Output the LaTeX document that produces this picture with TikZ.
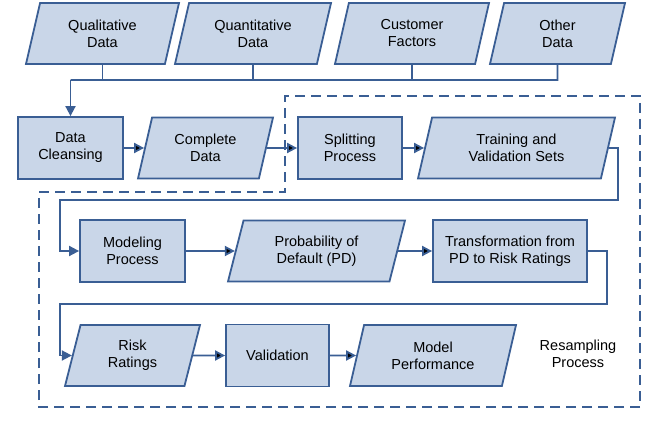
\documentclass[tikz,border=0pt]{standalone}
\usepackage{fontspec}
\setmainfont{Liberation Sans}
\usepackage{tikz}
\usetikzlibrary{shapes.geometric,arrows.meta}
\definecolor{boxfill}{HTML}{C9D6E8}
\definecolor{boxline}{HTML}{3A5E94}

\begin{document}
\begin{tikzpicture}[x=1pt,y=-1pt,>={Triangle[length=10pt,width=10pt]},
	font=\fontsize{14.5}{17}\selectfont,
	proc/.style={rectangle,draw=boxline,fill=boxfill,line width=1.8pt,minimum height=62pt,align=center,inner sep=0pt},
	data/.style={trapezium,trapezium left angle=63,trapezium right angle=117,trapezium stretches body,draw=boxline,fill=boxfill,line width=1.8pt,minimum height=61pt,align=center,inner sep=0pt},
	flow/.style={draw=boxline,line width=1.8pt},
	group/.style={draw=boxline,line width=2pt,dash pattern=on 10pt off 6pt}]
		\useasboundingbox (0,0) rectangle (657,425);
		
		% inputs
		\node[data,minimum width=153pt] (qual) at (102.5,33.5) {Qualitative\\Data};
		\node[data,minimum width=156pt] (quan) at (253,33.5) {Quantitative\\Data};
		\node[data,minimum width=154pt] (cust) at (412,33.5) {Customer\\Factors};
		\node[data,minimum width=135pt] (other) at (557.5,33.5) {Other\\Data};
		
		% row 1
		\node[proc,minimum width=105pt] (clean) at (70.5,148) {Data\\Cleansing};
		\node[data,minimum width=135pt] (complete) at (205.5,148) {Complete\\Data};
		\node[proc,minimum width=104pt] (split) at (350,148) {Splitting\\Process};
		\node[data,minimum width=197pt] (sets) at (516.5,148) {Training and\\Validation Sets};
		
		% row 2
		\node[proc,minimum width=105pt] (model) at (132.5,251) {Modeling\\Process};
		\node[data,minimum width=177pt] (pd) at (316.5,251) {Probability of\\Default (PD)};
		\node[proc,minimum width=154pt] (trans) at (510,251) {Transformation from\\PD to Risk Ratings};
		
		% row 3
		\node[data,minimum width=135pt] (ratings) at (132.5,355.5) {Risk\\Ratings};
		\node[proc,minimum width=103pt] (valid) at (277.5,355.5) {Validation};
		\node[data,minimum width=166pt] (perf) at (433,355.5) {Model\\Performance};
		\node[align=center] (resamp) at (578,354) {Resampling\\Process};
		
		% bus from the inputs
		\coordinate (bus) at (70.5,80);
		\coordinate (busend) at (557.5,80);
		\draw[flow] (qual.south) -- (qual.south |- bus);
		\draw[flow] (quan.south) -- (quan.south |- bus);
		\draw[flow] (cust.south) -- (cust.south |- bus);
		\draw[flow] (other.south) -- (busend) -- (bus);
		\draw[flow,->] (bus) -- (clean.north);
		
		% turns between the rows
		\coordinate (t1) at (618,200);
		\coordinate (t2) at (60,200);
		\coordinate (t3) at (607,304);
		\coordinate (t4) at (60,304);
		
		\path[flow,->] (clean) edge (complete);
		\path[flow,->] (complete) edge (split);
		\path[flow,->] (split) edge (sets);
		\draw[flow,->] (sets.east) -| (t1) -- (t2) |- (model.west);
		\path[flow,->] (model) edge (pd);
		\path[flow,->] (pd) edge (trans);
		\draw[flow,->] (trans.east) -| (t3) -- (t4) |- (ratings.west);
		\path[flow,->] (ratings) edge (valid);
		\path[flow,->] (valid) edge (perf);
		
		% resampling region
		\draw[group] (39,192) -- (285,192) -- (285,96) -- (640,96) -- (640,407) -- (39,407) -- cycle;
\end{tikzpicture}
\end{document}
